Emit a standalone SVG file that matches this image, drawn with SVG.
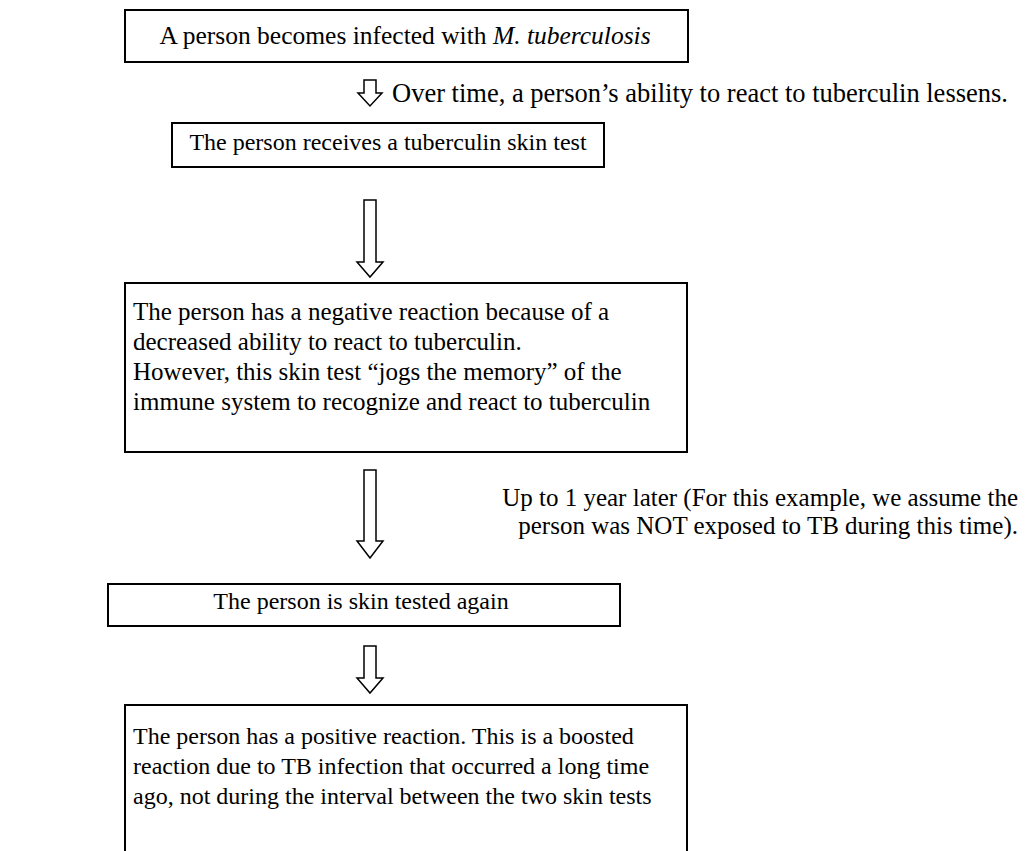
<svg xmlns="http://www.w3.org/2000/svg" width="1026" height="851" viewBox="0 0 1026 851">
<style>
.box{fill:#fff;stroke:#000;stroke-width:2}
.t{font-family:"Liberation Serif","Times New Roman",serif;font-size:24px;fill:#000}
.arr{fill:#fff;stroke:#000;stroke-width:1.5;stroke-linejoin:miter}
</style>
<rect width="1026" height="851" fill="#fff"/>
<g id="connectors">
<path class="arr" d="M364,80 V93 H358 L370,106 L382,93 H376 V80 Z"/>
<path class="arr" d="M364,200 V262 H357 L370,277 L383,262 H376 V200 Z"/>
<path class="arr" d="M364,470 V541 H357 L370,558 L383,541 H376 V470 Z"/>
<path class="arr" d="M364,646 V678 H357 L370,693 L383,678 H376 V646 Z"/>
<text class="t" x="392" y="102" style="font-size:26.5px">Over time, a person’s ability to react to tuberculin lessens.</text>
<text class="t" x="1018" y="506" text-anchor="end" style="font-size:25px">Up to 1 year later (For this example, we assume the</text>
<text class="t" x="1018" y="534" text-anchor="end" style="font-size:25px">person was NOT exposed to TB during this time).</text>
</g>
<g id="n1">
<rect class="box" x="125" y="10" width="563" height="52"/>
<text class="t" x="405" y="44" text-anchor="middle" style="font-size:25.5px">A person becomes infected with <tspan font-style="italic">M. tuberculosis</tspan></text>
</g>
<g id="n2">
<rect class="box" x="172" y="123" width="432" height="44"/>
<text class="t" x="388" y="150" text-anchor="middle">The person receives a tuberculin skin test</text>
</g>
<g id="n3">
<rect class="box" x="125" y="283" width="562" height="169"/>
<text class="t" x="133" y="320" style="font-size:25px">The person has a negative reaction because of a</text>
<text class="t" x="133" y="350" style="font-size:25px">decreased ability to react to tuberculin.</text>
<text class="t" x="133" y="380" style="font-size:25px">However, this skin test “jogs the memory” of the</text>
<text class="t" x="133" y="410" style="font-size:25px">immune system to recognize and react to tuberculin</text>
</g>
<g id="n4">
<rect class="box" x="108" y="584" width="512" height="42"/>
<text class="t" x="361" y="609" text-anchor="middle">The person is skin tested again</text>
</g>
<g id="n5">
<path class="box" d="M125,852 V705 H687 V852"/>
<text class="t" x="133" y="744">The person has a positive reaction. This is a boosted</text>
<text class="t" x="133" y="774">reaction due to TB infection that occurred a long time</text>
<text class="t" x="133" y="804">ago, not during the interval between the two skin tests</text>
</g>
</svg>
